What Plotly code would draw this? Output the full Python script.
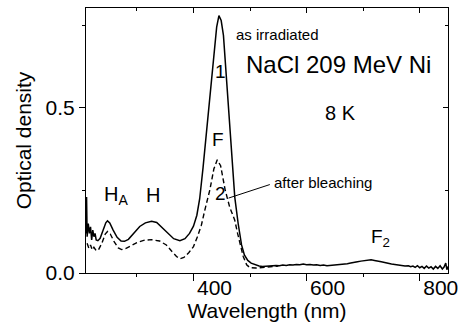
import plotly.graph_objects as go

# ---- data ----
wl_irr = [210, 211, 212, 214, 216, 218, 220, 222, 224, 226, 228, 231,
          235, 240, 245, 248, 252, 258, 265, 272, 278, 285, 295, 305, 315, 326,
          335, 345, 355, 365, 376, 385, 393, 400, 406, 411, 417, 422, 427, 432,
          437, 441, 445, 449, 453, 458, 462, 468, 473, 479, 485, 490, 496, 502,
          510, 516, 522, 528, 534, 540, 546, 552, 558, 564, 570, 576, 582, 588,
          594, 600, 606, 612, 618, 624, 630, 636, 642, 648, 654, 660, 666, 672,
          678, 684, 690, 696, 702, 708, 714, 720, 726, 732, 738, 744, 750, 756,
          762, 768, 774, 780, 784, 788, 792, 796, 800, 804, 808, 812, 816, 820,
          824, 828, 832, 836, 840, 843, 846, 848, 850]
od_irr = [0.12, 0.23, 0.11, 0.15, 0.12, 0.14, 0.10, 0.13, 0.11, 0.12, 0.10, 0.098,
          0.105, 0.13, 0.152, 0.158, 0.152, 0.13, 0.108, 0.097, 0.096, 0.102, 0.12, 0.141, 0.152, 0.157,
          0.153, 0.137, 0.118, 0.104, 0.098, 0.104, 0.12, 0.142, 0.175, 0.225, 0.32, 0.41, 0.50, 0.60,
          0.69, 0.745, 0.78, 0.765, 0.72, 0.60, 0.495, 0.34, 0.23, 0.15, 0.085, 0.055, 0.038, 0.030,
          0.024, 0.021, 0.020, 0.021, 0.022, 0.021, 0.023, 0.022, 0.024, 0.023, 0.025, 0.024, 0.026, 0.025,
          0.027, 0.025, 0.026, 0.024, 0.025, 0.023, 0.024, 0.022, 0.023, 0.024, 0.023, 0.025, 0.026, 0.028,
          0.030, 0.033, 0.034, 0.036, 0.037, 0.039, 0.040, 0.038, 0.037, 0.034, 0.032, 0.029, 0.027, 0.026,
          0.024, 0.023, 0.021, 0.022, 0.019, 0.021, 0.017, 0.022, 0.016, 0.020, 0.014, 0.021, 0.015, 0.019,
          0.012, 0.020, 0.014, 0.022, 0.012, 0.018, 0.030, 0.010, 0.02]

wl_bl = [212, 215, 218, 221, 224, 228, 232, 238, 244, 248, 253, 260, 267, 273, 280,
         290, 300, 312, 326, 340, 352, 362, 370, 376, 383, 392, 400, 407, 414, 420,
         429, 436, 442, 448, 456, 464, 473, 478, 483, 488, 494, 500, 510, 520, 535, 550]
od_bl = [0.09, 0.075, 0.085, 0.07, 0.078, 0.068, 0.07, 0.09, 0.118, 0.126, 0.118, 0.094, 0.076, 0.071, 0.074,
         0.083, 0.092, 0.099, 0.101, 0.097, 0.085, 0.065, 0.05, 0.043, 0.047, 0.062, 0.08, 0.11, 0.145, 0.19,
         0.252, 0.315, 0.343, 0.325, 0.252, 0.2, 0.16, 0.12, 0.08, 0.05, 0.025, 0.016, 0.015, 0.016, 0.019, 0.021]

x_tickvals = [400, 600, 800]
x_minor = [300, 500, 700]
y_tickvals = [0.0, 0.5]
y_ticktext = ["0.0", "0.5"]
y_minor = [0.25, 0.75]

FONT = "Liberation Sans, Arial, sans-serif"
X_RANGE = [210, 850]
Y_RANGE = [0, 0.803]

fig = go.Figure()
fig.add_trace(go.Scatter(x=wl_irr, y=od_irr, mode="lines", name="as irradiated",
                         line=dict(color="black", width=1.5), hoverinfo="skip"))
fig.add_trace(go.Scatter(x=wl_bl, y=od_bl, mode="lines", name="after bleaching",
                         line=dict(color="black", width=1.4, dash="5px,3px"), hoverinfo="skip"))
# invisible helper traces so the extra tick axes are drawn
fig.add_trace(go.Scatter(x=[400], y=[0.1], xaxis="x2", yaxis="y2", mode="markers",
                         marker=dict(opacity=0), hoverinfo="skip", showlegend=False))
fig.add_trace(go.Scatter(x=[400], y=[0.1], xaxis="x3", yaxis="y", mode="markers",
                         marker=dict(opacity=0), hoverinfo="skip", showlegend=False))

axis_common = dict(showgrid=False, zeroline=False, showline=True, linecolor="black",
                   linewidth=1, automargin=False)

fig.update_layout(
    width=458, height=328,
    margin=dict(l=86, r=10, t=8, b=55),
    paper_bgcolor="white", plot_bgcolor="white",
    showlegend=False,
    font=dict(family=FONT, color="black"),
    # bottom axis: labels only (labels sit offset from the tick marks, as in the original)
    xaxis=dict(**axis_common, range=X_RANGE, tickvals=x_tickvals, ticks="",
               ticklabelshift=21, ticklabelstandoff=-4, ticklabeloverflow="allow",
               tickfont=dict(size=21, family=FONT),
               title=dict(text="Wavelength (nm)", font=dict(size=21, family=FONT), standoff=0)),
    # bottom axis tick marks
    xaxis3=dict(**axis_common, overlaying="x", side="bottom", anchor="y", range=X_RANGE,
                showticklabels=False, tickvals=x_tickvals,
                ticks="outside", ticklen=7, tickwidth=1, tickcolor="black",
                minor=dict(tickvals=x_minor, ticks="outside", ticklen=3, tickcolor="black")),
    yaxis=dict(**axis_common, range=Y_RANGE, tickvals=y_tickvals, ticktext=y_ticktext,
               ticks="outside", ticklen=6, tickwidth=1, tickcolor="black",
               minor=dict(tickvals=y_minor, ticks="outside", ticklen=3, tickcolor="black"),
               tickfont=dict(size=21, family=FONT),
               title=dict(text="Optical density", font=dict(size=21, family=FONT), standoff=8)),
    xaxis2=dict(**axis_common, overlaying="x", side="top", anchor="y", range=X_RANGE,
                showticklabels=False,
                tickvals=x_tickvals, ticks="inside", ticklen=5, tickcolor="black",
                minor=dict(tickvals=x_minor, ticks="inside", ticklen=3, tickcolor="black")),
    yaxis2=dict(**axis_common, overlaying="y", side="right", anchor="x", range=Y_RANGE,
                showticklabels=False,
                tickvals=y_tickvals, ticks="inside", ticklen=5, tickcolor="black",
                minor=dict(tickvals=y_minor, ticks="inside", ticklen=3, tickcolor="black")),
)


def label(text, x, y, size, xanchor="center", yanchor="middle"):
    fig.add_annotation(text=text, x=x, y=y, xref="x", yref="y", showarrow=False,
                       font=dict(size=size, family=FONT, color="black"),
                       xanchor=xanchor, yanchor=yanchor)

label("as irradiated", 548, 0.722, 15)
label("NaCl 209 MeV Ni", 656, 0.631, 24)
label("8 K", 660, 0.485, 20)
label("1", 447.5, 0.611, 19)
label("F", 444, 0.404, 19)
label("2", 447, 0.24, 19)
label("after bleaching", 629, 0.273, 15)
label("H<sub>A</sub>", 237.5, 0.235, 20, xanchor="left")
label("H", 328, 0.235, 20)
label("F<sub>2</sub>", 710, 0.106, 19, xanchor="left")

fig.add_shape(type="line", xref="x", yref="y", x0=535, y0=0.268, x1=462, y1=0.227,
              line=dict(color="black", width=1))

fig.write_html("out.html")
